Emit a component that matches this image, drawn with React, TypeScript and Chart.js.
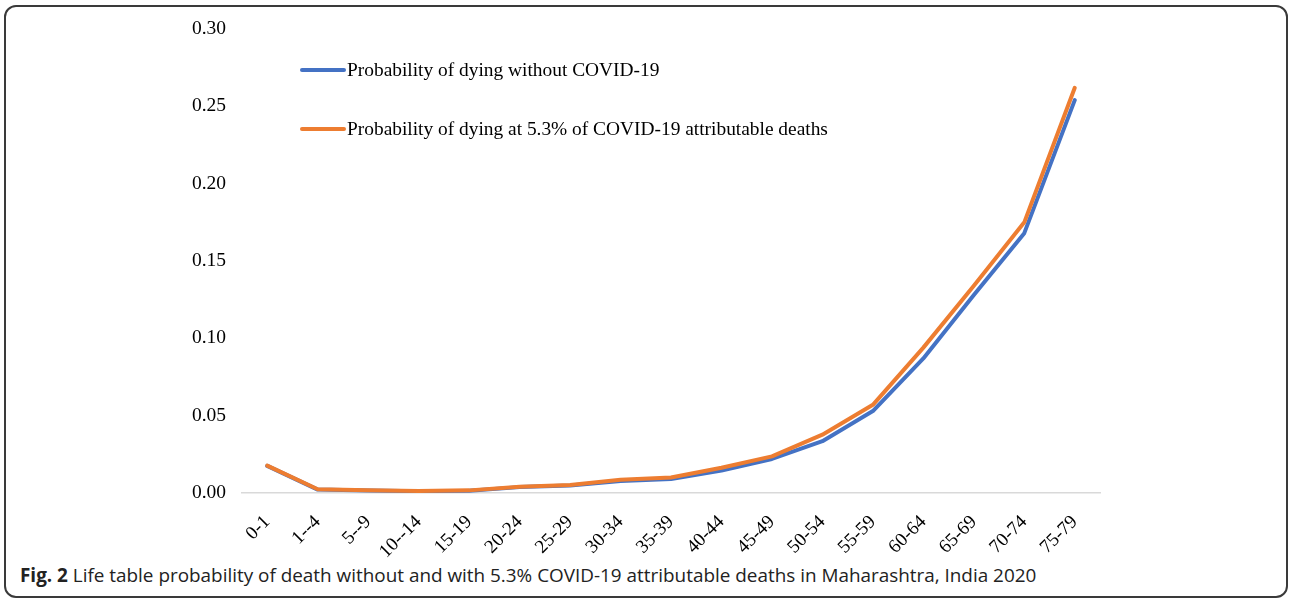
import React, { useEffect, useRef } from "react";
import { Chart, registerables } from "chart.js";

Chart.register(...registerables);

const ageGroups = ["0-1", "1--4", "5--9", "10--14", "15-19", "20-24", "25-29", "30-34", "35-39", "40-44", "45-49", "50-54", "55-59", "60-64", "65-69", "70-74", "75-79"];
const probWithout = [0.0175, 0.0022, 0.0016, 0.0012, 0.0015, 0.0038, 0.0048, 0.0078, 0.0090, 0.0145, 0.0220, 0.0335, 0.0530, 0.0870, 0.1280, 0.1680, 0.2540];
const probWith = [0.0177, 0.0024, 0.0017, 0.0013, 0.0017, 0.0041, 0.0052, 0.0085, 0.0100, 0.0163, 0.0237, 0.0377, 0.0570, 0.0940, 0.1340, 0.1750, 0.2620];
const yTicks = [0, 0.05, 0.1, 0.15, 0.2, 0.25, 0.3];
const seriesLabels = ["Probability of dying without COVID-19", "Probability of dying at 5.3% of COVID-19 attributable deaths"];
const seriesColors = ["#4472C4", "#ED7D31"];

const SERIF = "'Liberation Serif', 'Times New Roman', serif";

const legendPlugin = {
  id: "insideLegend",
  afterDraw(chart: any) {
    const ctx = chart.ctx;
    const rows = [70, 129];
    ctx.save();
    chart.data.datasets.forEach((ds: any, i: number) => {
      const y = rows[i];
      ctx.strokeStyle = ds.borderColor;
      ctx.lineWidth = 4;
      ctx.lineCap = "round";
      ctx.beginPath();
      ctx.moveTo(302, y);
      ctx.lineTo(344, y);
      ctx.stroke();
      ctx.fillStyle = "#000";
      ctx.font = `19.4px ${SERIF}`;
      ctx.textBaseline = "middle";
      ctx.textAlign = "left";
      ctx.fillText(ds.label, 347, y + 1);
    });
    ctx.restore();
  },
};

export default function App() {
  const ref = useRef<HTMLCanvasElement>(null);
  useEffect(() => {
    if (!ref.current) return;
    const chart = new Chart(ref.current, {
      type: "line",
      data: {
        labels: ageGroups,
        datasets: [
          { label: seriesLabels[0], data: probWithout, order: 1, borderColor: seriesColors[0], backgroundColor: seriesColors[0], borderWidth: 4, pointRadius: 0, tension: 0, borderCapStyle: "round", borderJoinStyle: "round" },
          { label: seriesLabels[1], data: probWith, order: 0, borderColor: seriesColors[1], backgroundColor: seriesColors[1], borderWidth: 4, pointRadius: 0, tension: 0, borderCapStyle: "round", borderJoinStyle: "round" },
        ],
      },
      options: {
        animation: false,
        responsive: false,
        maintainAspectRatio: false,
        layout: { padding: { top: 29, right: 190, bottom: 0, left: 0 } },
        plugins: { legend: { display: false }, tooltip: { enabled: false } },
        scales: {
          x: {
            offset: true,
            grid: { display: false, drawTicks: false },
            border: { display: true, color: "#D9D9D9", width: 1.5 },
            ticks: { color: "#000", font: { family: SERIF, size: 19 }, minRotation: 45, maxRotation: 45, padding: 18, autoSkip: false },
            afterFit(scale: any) { scale.height = 67; },
          },
          y: {
            min: 0,
            max: 0.3,
            grid: { display: false, drawTicks: false },
            border: { display: false },
            afterBuildTicks(scale: any) { scale.ticks = yTicks.map((v) => ({ value: v })); },
            ticks: { color: "#000", font: { family: SERIF, size: 19.5 }, padding: 16, callback: (v: any) => Number(v).toFixed(2) },
            afterFit(scale: any) { scale.width = 242; },
          },
        },
      },
      plugins: [legendPlugin],
    });
    return () => chart.destroy();
  }, []);

  return (
    <div style={{ position: "fixed", left: 0, top: 0, width: 1290, height: 600, background: "#fff", overflow: "hidden" }}>
      <div style={{ position: "absolute", left: 4, top: 5, width: 1280, height: 589, border: "2px solid #3a3a3a", borderRadius: 12 }} />
      <canvas ref={ref} width={1290} height={560} style={{ position: "absolute", left: 0, top: 0, width: 1290, height: 560 }} />
      <div style={{ position: "absolute", left: 20, top: 564, fontFamily: "'Open Sans', 'Noto Sans', sans-serif", fontSize: 18.9, lineHeight: "22px", color: "#222", whiteSpace: "nowrap" }}>
        <b>Fig. 2</b> Life table probability of death without and with 5.3% COVID-19 attributable deaths in Maharashtra, India 2020
      </div>
    </div>
  );
}
